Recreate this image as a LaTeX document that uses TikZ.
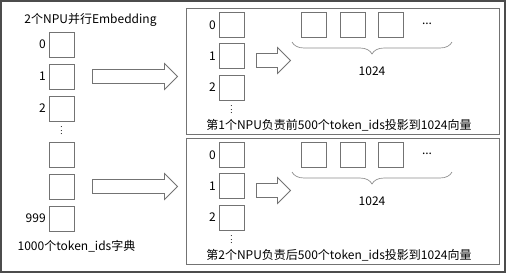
\documentclass[tikz,border=0pt]{standalone}
\usepackage{fontspec}
\setmainfont{Noto Sans CJK SC}
\usepackage{tikz}
\usetikzlibrary{arrows.meta,calc,positioning,shapes.arrows,decorations.pathreplacing}

\colorlet{edgegray}{black!55}
\newcommand{\smallvdots}{\vbox{\baselineskip=2.6pt\lineskiplimit=-10pt\hbox{.}\hbox{.}\hbox{.}}}
\tikzset{
  cell/.style={draw=edgegray,line width=.6pt,minimum size=18.75pt,inner sep=0pt},
  idx/.style={font=\fontsize{9}{11}\selectfont,inner sep=2pt},
  panel/.style={draw=edgegray,line width=.7pt,inner sep=0pt},
  fatarrow/.style={single arrow,draw=edgegray,fill=white,line width=.6pt,
    inner xsep=0pt,inner ysep=4.9pt,single arrow head extend=4.5pt,single arrow tip angle=90},
  vdots/.style={font=\fontsize{6}{6}\selectfont,inner sep=0pt},
  curly/.style={decorate,decoration={brace,mirror,amplitude=9pt},draw=black!45,line width=.5pt}
}

\begin{document}
\begin{tikzpicture}[x=.75pt,y=-.75pt,font=\fontsize{9}{11}\selectfont]
\useasboundingbox (0,0) rectangle (506,273);
\draw[black!70,line width=1.1pt] (1,1) rectangle (505,272);

% dictionary on the left
\node (title) at (90.5,20) {2个NPU并行Embedding};
\node[cell,label={[idx]left:0}] (l0) at (61.5,44.5) {};
\node[cell,label={[idx]left:1}] (l1) at (61.5,76.5) {};
\node[cell,label={[idx]left:2}] (l2) at (61.5,108.5) {};
\node[vdots] (ld) at (61.5,131) {\smallvdots};
\node[cell] (l3) at (61.5,154.5) {};
\node[cell] (l4) at (61.5,186.5) {};
\node[cell,label={[idx]left:999}] (l5) at (61.5,218.5) {};
\node (dict) at (76.5,246) {1000个token\_ids字典};

\node[fatarrow,minimum height=63.75pt] (m1) at (131.5,76.5) {};
\node[fatarrow,minimum height=63.75pt] (m2) at (131.5,186.5) {};

% one panel per NPU
\foreach \k/\dy/\part in {1/0/前,2/130/后}{
  \node[panel,minimum width=234.75pt,minimum height=94.5pt] (p\k) at (342.5,{71+\dy}) {};
  \node[cell,label={[idx]left:0}] (a\k0) at (231.5,{25+\dy}) {};
  \node[cell,label={[idx]left:1}] (a\k1) at (231.5,{56+\dy}) {};
  \node[cell,label={[idx]left:2}] (a\k2) at (231.5,{87.5+\dy}) {};
  \node[vdots] (d\k) at (231.5,{110+\dy}) {\smallvdots};
  \node[fatarrow,minimum height=25.5pt] (s\k) at (270,{60.5+\dy}) {};
  \node[cell] (v\k1) at (314,{25+\dy}) {};
  \node[cell] (v\k2) at (352.5,{25+\dy}) {};
  \node[cell] (v\k3) at (390.5,{25+\dy}) {};
  \node (e\k) at (427,{24+\dy}) {...};
  \coordinate (bl\k) at (292,{42+\dy});
  \coordinate (br\k) at (452,{42+\dy});
  \draw[curly] (bl\k) -- (br\k);
  \node (n\k) at (372,{71+\dy}) {1024};
  \node (t\k) at (339,{125+\dy}) {第\k 个NPU负责\part 500个token\_ids投影到1024向量};
}
\end{tikzpicture}
\end{document}
